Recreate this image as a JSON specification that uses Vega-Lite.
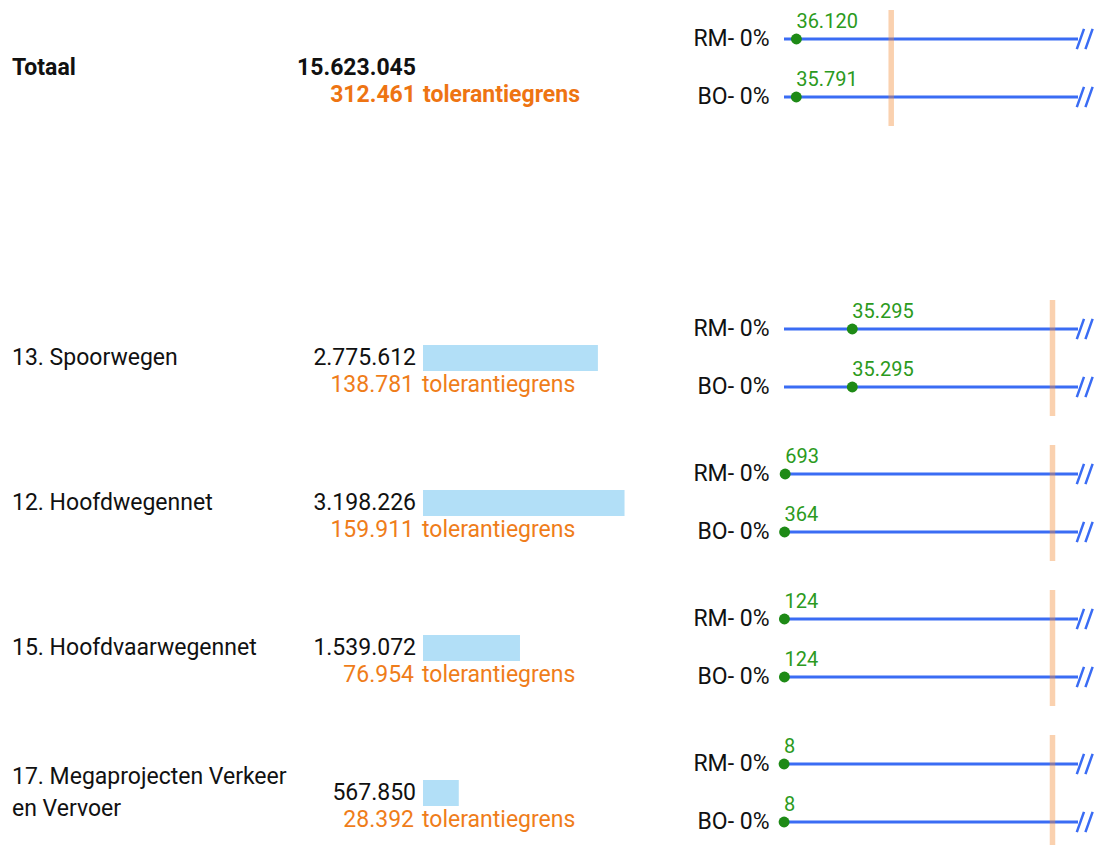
{
  "$schema": "https://vega.github.io/schema/vega-lite/v6.json",
  "background": "white",
  "padding": {"left": 12, "top": 7, "right": 0, "bottom": 0},
  "config": {
    "view": {"stroke": null},
    "font": "Roboto",
    "locale": {"number": {"decimal": ",", "thousands": ".", "grouping": [3], "currency": ["€ ", ""]}}
  },
  "datasets": {
    "rows": [
      {"rij": "Totaal", "label": "Totaal", "budget": 15623045, "tolerantie": 312461},
      {"rij": "13", "label": "13. Spoorwegen", "budget": 2775612, "tolerantie": 138781},
      {"rij": "12", "label": "12. Hoofdwegennet", "budget": 3198226, "tolerantie": 159911},
      {"rij": "15", "label": "15. Hoofdvaarwegennet", "budget": 1539072, "tolerantie": 76954},
      {"rij": "17", "label": "17. Megaprojecten Verkeer\nen Vervoer", "budget": 567850, "tolerantie": 28392}
    ],
    "dots": [
      {"rij": "Totaal", "serie": "RM- 0%", "waarde": 36120},
      {"rij": "Totaal", "serie": "BO- 0%", "waarde": 35791},
      {"rij": "13", "serie": "RM- 0%", "waarde": 35295},
      {"rij": "13", "serie": "BO- 0%", "waarde": 35295},
      {"rij": "12", "serie": "RM- 0%", "waarde": 693},
      {"rij": "12", "serie": "BO- 0%", "waarde": 364},
      {"rij": "15", "serie": "RM- 0%", "waarde": 124},
      {"rij": "15", "serie": "BO- 0%", "waarde": 124},
      {"rij": "17", "serie": "RM- 0%", "waarde": 8},
      {"rij": "17", "serie": "BO- 0%", "waarde": 8}
    ]
  },
  "spacing": 0,
  "bounds": "flush",
  "hconcat": [
    {
      "width": 411, "height": 841,
      "data": {"name": "rows"},
      "encoding": {
        "y": {"field": "rij", "type": "nominal", "scale": {"type": "point", "domain": ["Totaal", "leeg", "13", "12", "15", "17"], "padding": 0.4}, "axis": null},
        "x": {"value": 0}
      },
      "layer": [
        {"transform": [{"filter": "datum.rij === 'Totaal'"}],
         "mark": {"type": "text", "align": "left", "baseline": "middle", "fontSize": 23, "fontWeight": "bold", "color": "#111111"},
         "encoding": {"text": {"field": "label"}}},
        {"transform": [{"filter": "datum.rij !== 'Totaal' && datum.rij !== '17'"}],
         "mark": {"type": "text", "align": "left", "baseline": "middle", "fontSize": 23, "color": "#111111"},
         "encoding": {"text": {"field": "label"}}},
        {"transform": [{"filter": "datum.rij === '17'"}],
         "mark": {"type": "text", "align": "left", "baseline": "middle", "dy": -16, "fontSize": 23, "lineBreak": "\n", "lineHeight": 32, "color": "#111111"},
         "encoding": {"text": {"field": "label"}}}
      ]
    },
    {
      "width": 361, "height": 841,
      "data": {"name": "rows"},
      "encoding": {
        "y": {"field": "rij", "type": "nominal", "scale": {"type": "point", "domain": ["Totaal", "leeg", "13", "12", "15", "17"], "padding": 0.4}, "axis": null}
      },
      "layer": [
        {"transform": [{"filter": "datum.rij !== 'Totaal'"}],
         "mark": {"type": "bar", "height": 26, "color": "#b2dff7"},
         "encoding": {"x": {"field": "budget", "type": "quantitative", "scale": {"domain": [0, 5729000], "nice": false}, "axis": null}}},
        {"transform": [{"filter": "datum.rij === 'Totaal'"}],
         "mark": {"type": "text", "align": "right", "baseline": "middle", "dx": -7, "fontSize": 23, "fontWeight": "bold", "color": "#111111"},
         "encoding": {"x": {"datum": 0}, "text": {"field": "budget", "type": "quantitative", "format": ","}}},
        {"transform": [{"filter": "datum.rij !== 'Totaal'"}],
         "mark": {"type": "text", "align": "right", "baseline": "middle", "dx": -7, "fontSize": 23, "color": "#111111"},
         "encoding": {"x": {"datum": 0}, "text": {"field": "budget", "type": "quantitative", "format": ","}}},
        {"transform": [{"filter": "datum.rij === 'Totaal'"}],
         "mark": {"type": "text", "align": "right", "baseline": "middle", "dx": -7, "dy": 27, "fontSize": 23, "fontWeight": "bold", "color": "#ee7412"},
         "encoding": {"x": {"datum": 0}, "text": {"field": "tolerantie", "type": "quantitative", "format": ","}}},
        {"transform": [{"filter": "datum.rij === 'Totaal'"}],
         "mark": {"type": "text", "align": "left", "baseline": "middle", "dx": 0, "dy": 27, "fontSize": 23, "fontWeight": "bold", "color": "#ee7412", "text": "tolerantiegrens"},
         "encoding": {"x": {"datum": 0}}},
        {"transform": [{"filter": "datum.rij !== 'Totaal'"}],
         "mark": {"type": "text", "align": "right", "baseline": "middle", "dx": -9, "dy": 27, "fontSize": 23, "color": "#ef7d1a"},
         "encoding": {"x": {"datum": 0}, "text": {"field": "tolerantie", "type": "quantitative", "format": ","}}},
        {"transform": [{"filter": "datum.rij !== 'Totaal'"}],
         "mark": {"type": "text", "align": "left", "baseline": "middle", "dx": -1, "dy": 27, "fontSize": 23, "color": "#ef7d1a", "text": "tolerantiegrens"},
         "encoding": {"x": {"datum": 0}}}
      ]
    },
    {
      "spacing": 174,
      "bounds": "flush",
      "vconcat": [
        {
          "width": 294, "height": 116,
          "layer": [
            {"data": {"name": "dots"}, "transform": [{"filter": "datum.rij === 'Totaal'"}],
             "mark": {"type": "rule", "color": "#3a6cf4", "strokeWidth": 3},
             "encoding": {"y": {"field": "serie", "type": "nominal", "scale": {"type": "band", "domain": ["RM- 0%", "BO- 0%"], "paddingInner": 0, "paddingOuter": 0}, "axis": {"title": null, "domain": false, "ticks": false, "tickSize": 0, "labelPadding": 15, "labelFontSize": 23, "labelFont": "Roboto", "labelColor": "#111111", "labelBaseline": "middle"}}}},
            {"data": {"name": "dots"}, "transform": [{"filter": "datum.rij === 'Totaal'"}],
             "mark": {"type": "point", "shape": "M-0.1,0.85L0.5,-0.85M0.62,0.85L1.22,-0.85", "filled": false, "stroke": "#3a6cf4", "strokeWidth": 2.5, "size": 576, "opacity": 1},
             "encoding": {"x": {"value": "width"}, "y": {"field": "serie", "type": "nominal", "scale": {"type": "band", "domain": ["RM- 0%", "BO- 0%"], "paddingInner": 0, "paddingOuter": 0}, "axis": {"title": null, "domain": false, "ticks": false, "tickSize": 0, "labelPadding": 15, "labelFontSize": 23, "labelFont": "Roboto", "labelColor": "#111111", "labelBaseline": "middle"}}}},
            {"data": {"name": "rows"}, "transform": [{"filter": "datum.rij === 'Totaal'"}],
             "mark": {"type": "rule", "color": "#f28c38", "opacity": 0.4, "strokeWidth": 5.5},
             "encoding": {"x": {"field": "tolerantie", "type": "quantitative", "scale": {"domain": [0, 856900], "nice": false, "zero": true}, "axis": null}}},
            {"data": {"name": "dots"}, "transform": [{"filter": "datum.rij === 'Totaal'"}],
             "mark": {"type": "circle", "size": 120, "color": "#1e8a16", "opacity": 1},
             "encoding": {"x": {"field": "waarde", "type": "quantitative", "axis": null}, "y": {"field": "serie", "type": "nominal", "scale": {"type": "band", "domain": ["RM- 0%", "BO- 0%"], "paddingInner": 0, "paddingOuter": 0}, "axis": {"title": null, "domain": false, "ticks": false, "tickSize": 0, "labelPadding": 15, "labelFontSize": 23, "labelFont": "Roboto", "labelColor": "#111111", "labelBaseline": "middle"}}}},
            {"data": {"name": "dots"}, "transform": [{"filter": "datum.rij === 'Totaal'"}],
             "mark": {"type": "text", "align": "left", "baseline": "alphabetic", "dy": -11, "fontSize": 20, "color": "#2b9a20"},
             "encoding": {"x": {"field": "waarde", "type": "quantitative", "axis": null}, "y": {"field": "serie", "type": "nominal", "scale": {"type": "band", "domain": ["RM- 0%", "BO- 0%"], "paddingInner": 0, "paddingOuter": 0}, "axis": {"title": null, "domain": false, "ticks": false, "tickSize": 0, "labelPadding": 15, "labelFontSize": 23, "labelFont": "Roboto", "labelColor": "#111111", "labelBaseline": "middle"}}, "text": {"field": "waarde", "type": "quantitative", "format": ","}}}
          ]
        },
        {
          "spacing": 29,
          "bounds": "flush",
          "vconcat": [
            {
              "width": 294, "height": 116,
              "layer": [
                {"data": {"name": "dots"}, "transform": [{"filter": "datum.rij === '13'"}],
                 "mark": {"type": "rule", "color": "#3a6cf4", "strokeWidth": 3},
                 "encoding": {"y": {"field": "serie", "type": "nominal", "scale": {"type": "band", "domain": ["RM- 0%", "BO- 0%"], "paddingInner": 0, "paddingOuter": 0}, "axis": {"title": null, "domain": false, "ticks": false, "tickSize": 0, "labelPadding": 15, "labelFontSize": 23, "labelFont": "Roboto", "labelColor": "#111111", "labelBaseline": "middle"}}}},
                {"data": {"name": "dots"}, "transform": [{"filter": "datum.rij === '13'"}],
                 "mark": {"type": "point", "shape": "M-0.1,0.85L0.5,-0.85M0.62,0.85L1.22,-0.85", "filled": false, "stroke": "#3a6cf4", "strokeWidth": 2.5, "size": 576, "opacity": 1},
                 "encoding": {"x": {"value": "width"}, "y": {"field": "serie", "type": "nominal", "scale": {"type": "band", "domain": ["RM- 0%", "BO- 0%"], "paddingInner": 0, "paddingOuter": 0}, "axis": {"title": null, "domain": false, "ticks": false, "tickSize": 0, "labelPadding": 15, "labelFontSize": 23, "labelFont": "Roboto", "labelColor": "#111111", "labelBaseline": "middle"}}}},
                {"data": {"name": "rows"}, "transform": [{"filter": "datum.rij === '13'"}],
                 "mark": {"type": "rule", "color": "#f28c38", "opacity": 0.4, "strokeWidth": 5.5},
                 "encoding": {"x": {"field": "tolerantie", "type": "quantitative", "scale": {"domain": [0, 151963], "nice": false, "zero": true}, "axis": null}}},
                {"data": {"name": "dots"}, "transform": [{"filter": "datum.rij === '13'"}],
                 "mark": {"type": "circle", "size": 120, "color": "#1e8a16", "opacity": 1},
                 "encoding": {"x": {"field": "waarde", "type": "quantitative", "axis": null}, "y": {"field": "serie", "type": "nominal", "scale": {"type": "band", "domain": ["RM- 0%", "BO- 0%"], "paddingInner": 0, "paddingOuter": 0}, "axis": {"title": null, "domain": false, "ticks": false, "tickSize": 0, "labelPadding": 15, "labelFontSize": 23, "labelFont": "Roboto", "labelColor": "#111111", "labelBaseline": "middle"}}}},
                {"data": {"name": "dots"}, "transform": [{"filter": "datum.rij === '13'"}],
                 "mark": {"type": "text", "align": "left", "baseline": "alphabetic", "dy": -11, "fontSize": 20, "color": "#2b9a20"},
                 "encoding": {"x": {"field": "waarde", "type": "quantitative", "axis": null}, "y": {"field": "serie", "type": "nominal", "scale": {"type": "band", "domain": ["RM- 0%", "BO- 0%"], "paddingInner": 0, "paddingOuter": 0}, "axis": {"title": null, "domain": false, "ticks": false, "tickSize": 0, "labelPadding": 15, "labelFontSize": 23, "labelFont": "Roboto", "labelColor": "#111111", "labelBaseline": "middle"}}, "text": {"field": "waarde", "type": "quantitative", "format": ","}}}
              ]
            },
            {
              "width": 294, "height": 116,
              "layer": [
                {"data": {"name": "dots"}, "transform": [{"filter": "datum.rij === '12'"}],
                 "mark": {"type": "rule", "color": "#3a6cf4", "strokeWidth": 3},
                 "encoding": {"y": {"field": "serie", "type": "nominal", "scale": {"type": "band", "domain": ["RM- 0%", "BO- 0%"], "paddingInner": 0, "paddingOuter": 0}, "axis": {"title": null, "domain": false, "ticks": false, "tickSize": 0, "labelPadding": 15, "labelFontSize": 23, "labelFont": "Roboto", "labelColor": "#111111", "labelBaseline": "middle"}}}},
                {"data": {"name": "dots"}, "transform": [{"filter": "datum.rij === '12'"}],
                 "mark": {"type": "point", "shape": "M-0.1,0.85L0.5,-0.85M0.62,0.85L1.22,-0.85", "filled": false, "stroke": "#3a6cf4", "strokeWidth": 2.5, "size": 576, "opacity": 1},
                 "encoding": {"x": {"value": "width"}, "y": {"field": "serie", "type": "nominal", "scale": {"type": "band", "domain": ["RM- 0%", "BO- 0%"], "paddingInner": 0, "paddingOuter": 0}, "axis": {"title": null, "domain": false, "ticks": false, "tickSize": 0, "labelPadding": 15, "labelFontSize": 23, "labelFont": "Roboto", "labelColor": "#111111", "labelBaseline": "middle"}}}},
                {"data": {"name": "rows"}, "transform": [{"filter": "datum.rij === '12'"}],
                 "mark": {"type": "rule", "color": "#f28c38", "opacity": 0.4, "strokeWidth": 5.5},
                 "encoding": {"x": {"field": "tolerantie", "type": "quantitative", "scale": {"domain": [0, 175099], "nice": false, "zero": true}, "axis": null}}},
                {"data": {"name": "dots"}, "transform": [{"filter": "datum.rij === '12'"}],
                 "mark": {"type": "circle", "size": 120, "color": "#1e8a16", "opacity": 1},
                 "encoding": {"x": {"field": "waarde", "type": "quantitative", "axis": null}, "y": {"field": "serie", "type": "nominal", "scale": {"type": "band", "domain": ["RM- 0%", "BO- 0%"], "paddingInner": 0, "paddingOuter": 0}, "axis": {"title": null, "domain": false, "ticks": false, "tickSize": 0, "labelPadding": 15, "labelFontSize": 23, "labelFont": "Roboto", "labelColor": "#111111", "labelBaseline": "middle"}}}},
                {"data": {"name": "dots"}, "transform": [{"filter": "datum.rij === '12'"}],
                 "mark": {"type": "text", "align": "left", "baseline": "alphabetic", "dy": -11, "fontSize": 20, "color": "#2b9a20"},
                 "encoding": {"x": {"field": "waarde", "type": "quantitative", "axis": null}, "y": {"field": "serie", "type": "nominal", "scale": {"type": "band", "domain": ["RM- 0%", "BO- 0%"], "paddingInner": 0, "paddingOuter": 0}, "axis": {"title": null, "domain": false, "ticks": false, "tickSize": 0, "labelPadding": 15, "labelFontSize": 23, "labelFont": "Roboto", "labelColor": "#111111", "labelBaseline": "middle"}}, "text": {"field": "waarde", "type": "quantitative", "format": ","}}}
              ]
            },
            {
              "width": 294, "height": 116,
              "layer": [
                {"data": {"name": "dots"}, "transform": [{"filter": "datum.rij === '15'"}],
                 "mark": {"type": "rule", "color": "#3a6cf4", "strokeWidth": 3},
                 "encoding": {"y": {"field": "serie", "type": "nominal", "scale": {"type": "band", "domain": ["RM- 0%", "BO- 0%"], "paddingInner": 0, "paddingOuter": 0}, "axis": {"title": null, "domain": false, "ticks": false, "tickSize": 0, "labelPadding": 15, "labelFontSize": 23, "labelFont": "Roboto", "labelColor": "#111111", "labelBaseline": "middle"}}}},
                {"data": {"name": "dots"}, "transform": [{"filter": "datum.rij === '15'"}],
                 "mark": {"type": "point", "shape": "M-0.1,0.85L0.5,-0.85M0.62,0.85L1.22,-0.85", "filled": false, "stroke": "#3a6cf4", "strokeWidth": 2.5, "size": 576, "opacity": 1},
                 "encoding": {"x": {"value": "width"}, "y": {"field": "serie", "type": "nominal", "scale": {"type": "band", "domain": ["RM- 0%", "BO- 0%"], "paddingInner": 0, "paddingOuter": 0}, "axis": {"title": null, "domain": false, "ticks": false, "tickSize": 0, "labelPadding": 15, "labelFontSize": 23, "labelFont": "Roboto", "labelColor": "#111111", "labelBaseline": "middle"}}}},
                {"data": {"name": "rows"}, "transform": [{"filter": "datum.rij === '15'"}],
                 "mark": {"type": "rule", "color": "#f28c38", "opacity": 0.4, "strokeWidth": 5.5},
                 "encoding": {"x": {"field": "tolerantie", "type": "quantitative", "scale": {"domain": [0, 84262], "nice": false, "zero": true}, "axis": null}}},
                {"data": {"name": "dots"}, "transform": [{"filter": "datum.rij === '15'"}],
                 "mark": {"type": "circle", "size": 120, "color": "#1e8a16", "opacity": 1},
                 "encoding": {"x": {"field": "waarde", "type": "quantitative", "axis": null}, "y": {"field": "serie", "type": "nominal", "scale": {"type": "band", "domain": ["RM- 0%", "BO- 0%"], "paddingInner": 0, "paddingOuter": 0}, "axis": {"title": null, "domain": false, "ticks": false, "tickSize": 0, "labelPadding": 15, "labelFontSize": 23, "labelFont": "Roboto", "labelColor": "#111111", "labelBaseline": "middle"}}}},
                {"data": {"name": "dots"}, "transform": [{"filter": "datum.rij === '15'"}],
                 "mark": {"type": "text", "align": "left", "baseline": "alphabetic", "dy": -11, "fontSize": 20, "color": "#2b9a20"},
                 "encoding": {"x": {"field": "waarde", "type": "quantitative", "axis": null}, "y": {"field": "serie", "type": "nominal", "scale": {"type": "band", "domain": ["RM- 0%", "BO- 0%"], "paddingInner": 0, "paddingOuter": 0}, "axis": {"title": null, "domain": false, "ticks": false, "tickSize": 0, "labelPadding": 15, "labelFontSize": 23, "labelFont": "Roboto", "labelColor": "#111111", "labelBaseline": "middle"}}, "text": {"field": "waarde", "type": "quantitative", "format": ","}}}
              ]
            },
            {
              "width": 294, "height": 116,
              "layer": [
                {"data": {"name": "dots"}, "transform": [{"filter": "datum.rij === '17'"}],
                 "mark": {"type": "rule", "color": "#3a6cf4", "strokeWidth": 3},
                 "encoding": {"y": {"field": "serie", "type": "nominal", "scale": {"type": "band", "domain": ["RM- 0%", "BO- 0%"], "paddingInner": 0, "paddingOuter": 0}, "axis": {"title": null, "domain": false, "ticks": false, "tickSize": 0, "labelPadding": 15, "labelFontSize": 23, "labelFont": "Roboto", "labelColor": "#111111", "labelBaseline": "middle"}}}},
                {"data": {"name": "dots"}, "transform": [{"filter": "datum.rij === '17'"}],
                 "mark": {"type": "point", "shape": "M-0.1,0.85L0.5,-0.85M0.62,0.85L1.22,-0.85", "filled": false, "stroke": "#3a6cf4", "strokeWidth": 2.5, "size": 576, "opacity": 1},
                 "encoding": {"x": {"value": "width"}, "y": {"field": "serie", "type": "nominal", "scale": {"type": "band", "domain": ["RM- 0%", "BO- 0%"], "paddingInner": 0, "paddingOuter": 0}, "axis": {"title": null, "domain": false, "ticks": false, "tickSize": 0, "labelPadding": 15, "labelFontSize": 23, "labelFont": "Roboto", "labelColor": "#111111", "labelBaseline": "middle"}}}},
                {"data": {"name": "rows"}, "transform": [{"filter": "datum.rij === '17'"}],
                 "mark": {"type": "rule", "color": "#f28c38", "opacity": 0.4, "strokeWidth": 5.5},
                 "encoding": {"x": {"field": "tolerantie", "type": "quantitative", "scale": {"domain": [0, 31088], "nice": false, "zero": true}, "axis": null}}},
                {"data": {"name": "dots"}, "transform": [{"filter": "datum.rij === '17'"}],
                 "mark": {"type": "circle", "size": 120, "color": "#1e8a16", "opacity": 1},
                 "encoding": {"x": {"field": "waarde", "type": "quantitative", "axis": null}, "y": {"field": "serie", "type": "nominal", "scale": {"type": "band", "domain": ["RM- 0%", "BO- 0%"], "paddingInner": 0, "paddingOuter": 0}, "axis": {"title": null, "domain": false, "ticks": false, "tickSize": 0, "labelPadding": 15, "labelFontSize": 23, "labelFont": "Roboto", "labelColor": "#111111", "labelBaseline": "middle"}}}},
                {"data": {"name": "dots"}, "transform": [{"filter": "datum.rij === '17'"}],
                 "mark": {"type": "text", "align": "left", "baseline": "alphabetic", "dy": -11, "fontSize": 20, "color": "#2b9a20"},
                 "encoding": {"x": {"field": "waarde", "type": "quantitative", "axis": null}, "y": {"field": "serie", "type": "nominal", "scale": {"type": "band", "domain": ["RM- 0%", "BO- 0%"], "paddingInner": 0, "paddingOuter": 0}, "axis": {"title": null, "domain": false, "ticks": false, "tickSize": 0, "labelPadding": 15, "labelFontSize": 23, "labelFont": "Roboto", "labelColor": "#111111", "labelBaseline": "middle"}}, "text": {"field": "waarde", "type": "quantitative", "format": ","}}}
              ]
            }
          ]
        }
      ]
    }
  ]
}
